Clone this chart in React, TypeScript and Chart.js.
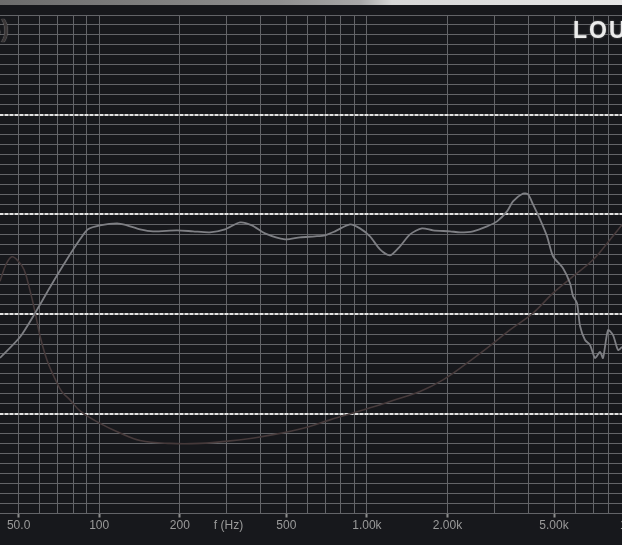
import React, { useEffect, useRef } from 'react';
import { Chart, registerables } from 'chart.js';

Chart.register(...registerables);

// Frequency response (SPL, dB) — frequencies in Hz
const splFreq = [42.6, 50.6, 57.6, 65.5, 75.8, 84.8, 90.8, 100.7, 116.6, 127, 142.1, 158.9, 195.3, 224.1, 259, 295, 335.7, 372, 416, 494.6, 562.6, 640, 697, 760, 865, 942, 1027, 1119, 1220, 1329, 1449, 1606, 1766, 2044, 2228, 2491, 2810, 3062, 3337, 3513, 3830, 3999, 4174, 4433, 4709, 4957, 5402, 5739, 5888, 6094, 6254, 6529, 6814, 7114, 7427, 7621, 7956, 8307, 8672, 8974];
const splDb = [65.6, 67.7, 70.1, 72.7, 75.5, 77.5, 78.5, 78.9, 79.1, 78.9, 78.5, 78.3, 78.4, 78.3, 78.2, 78.5, 79.2, 78.9, 78.1, 77.5, 77.7, 77.8, 77.9, 78.3, 79.0, 78.6, 77.8, 76.5, 75.9, 76.8, 78.0, 78.6, 78.4, 78.3, 78.2, 78.3, 78.8, 79.3, 80.3, 81.3, 82.1, 82.0, 81.0, 79.5, 77.8, 75.8, 74.6, 73.1, 71.8, 71.1, 68.8, 67.4, 66.9, 65.6, 66.2, 65.6, 68.4, 67.9, 66.4, 66.7];

// Impedance (ohm)
const impFreq = [42.6, 44.9, 47.2, 49.7, 52.4, 55.1, 57.6, 60.1, 63.8, 68.4, 72.6, 77.8, 84.8, 100.7, 119.6, 142.1, 183.9, 237.9, 308, 398.8, 562.6, 728, 1027, 1329, 1579, 1924, 2365, 2810, 3424, 4174, 4957, 5888, 6993, 8091, 8974];
const impOhm = [23.3, 25.0, 25.75, 25.35, 24.45, 22.4, 20.2, 17.8, 15.4, 13.5, 12.2, 11.4, 10.3, 9.04, 8.08, 7.33, 7.03, 7.03, 7.28, 7.68, 8.48, 9.39, 10.6, 11.57, 12.23, 13.4, 15.08, 16.59, 18.42, 20.1, 22.1, 23.78, 25.45, 27.46, 28.97];

// Axis ticks
const xGridValues = [50, 60, 70, 80, 90, 100, 200, 300, 304, 400, 500, 600, 700, 800, 900, 1000, 2000, 3000, 4000, 5000, 6000, 7000, 8000, 9000, 10000];
const xLabelValues = [50, 100, 200, 304, 500, 1000, 2000, 5000, 10000];
const xLabelTexts = ['50.0', '100', '200', 'f (Hz)', '500', '1.00k', '2.00k', '5.00k', '10.0k'];
const axisTitleValue = 304;
const yGridValues = Array.from({ length: 51 }, (_, i) => 50 + i);
const majorLevels = [60, 70, 80, 90];

const X_MIN = 42.6;
const X_MAX = 17550;
const GRID = '#636468';
const FONT = '"Liberation Sans", Arial, sans-serif';

const near = (a: number, b: number) => Math.abs(a - b) < 0.01;
const labelIndex = (v: number) => xLabelValues.findIndex((l) => near(l, v));

const dashPlugin = {
  id: 'majorDash',
  beforeDatasetsDraw(chart: any) {
    const { ctx, chartArea, scales } = chart;
    const y = scales.y;
    ctx.save();
    for (const v of majorLevels) {
      const py = Math.round(y.getPixelForValue(v));
      ctx.beginPath();
      ctx.setLineDash([]);
      ctx.strokeStyle = '#8c8c8c';
      ctx.lineWidth = 2;
      ctx.moveTo(chartArea.left, py);
      ctx.lineTo(chartArea.right, py);
      ctx.stroke();
      ctx.beginPath();
      ctx.setLineDash([3, 2]);
      ctx.strokeStyle = '#e2e2e2';
      ctx.moveTo(chartArea.left, py);
      ctx.lineTo(chartArea.right, py);
      ctx.stroke();
    }
    ctx.restore();
  },
};

export default function App() {
  const ref = useRef<HTMLCanvasElement>(null);

  useEffect(() => {
    document.body.style.margin = '0';
    const chart = new Chart(ref.current as HTMLCanvasElement, {
      type: 'line',
      data: {
        datasets: [
          {
            label: 'SPL',
            data: splFreq.map((f, i) => ({ x: f, y: splDb[i] })),
            borderColor: '#7e7f84',
            borderWidth: 1.8,
            pointRadius: 0,
            tension: 0.25,
            yAxisID: 'y',
          },
          {
            label: 'Impedance',
            data: impFreq.map((f, i) => ({ x: f, y: impOhm[i] })),
            borderColor: '#463a3b',
            borderWidth: 1.6,
            pointRadius: 0,
            tension: 0.4,
            yAxisID: 'y2',
          },
        ],
      },
      options: {
        animation: false,
        responsive: false,
        maintainAspectRatio: false,
        layout: { padding: { top: 15, left: 0, right: 0, bottom: 0 } },
        plugins: {
          legend: { display: false },
          tooltip: { enabled: false },
          title: { display: false },
        },
        scales: {
          x: {
            type: 'logarithmic',
            position: 'bottom',
            min: X_MIN,
            max: X_MAX,
            afterBuildTicks: (s: any) => {
              s.ticks = xGridValues.map((v) => ({ value: v }));
            },
            afterFit: (s: any) => {
              s.height = 31.5;
            },
            ticks: {
              autoSkip: false,
              maxRotation: 0,
              minRotation: 0,
              padding: 1,
              color: '#9a9a9a',
              font: { family: FONT, size: 12 },
              callback: (v: any) => {
                const i = labelIndex(Number(v));
                return i >= 0 ? xLabelTexts[i] : '';
              },
            },
            grid: {
              color: (c: any) => (c.tick && near(c.tick.value, axisTitleValue) ? 'rgba(0,0,0,0)' : GRID),
              lineWidth: 1,
              drawTicks: true,
              tickLength: 4,
              tickWidth: 2,
              tickColor: (c: any) => {
                const v = c.tick ? c.tick.value : 0;
                return labelIndex(v) >= 0 && !near(v, axisTitleValue) ? '#8e8e8e' : 'rgba(0,0,0,0)';
              },
            },
            border: { display: false },
          },
          y: {
            type: 'linear',
            min: 50,
            max: 100,
            afterBuildTicks: (s: any) => {
              s.ticks = yGridValues.map((v) => ({ value: v }));
            },
            afterFit: (s: any) => {
              s.width = 0;
            },
            ticks: { display: false },
            grid: { color: GRID, lineWidth: 1, drawTicks: false },
            border: { display: false },
          },
          y2: { type: 'linear', display: false, min: 0, max: 50 },
        },
      } as any,
      plugins: [dashPlugin],
    });
    return () => chart.destroy();
  }, []);

  return (
    <div
      style={{
        position: 'relative',
        width: 622,
        height: 545,
        overflow: 'hidden',
        background: '#17181c',
        fontFamily: FONT,
      }}
    >
      <canvas
        ref={ref}
        width={700}
        height={545}
        style={{ position: 'absolute', left: 0, top: 0, width: 700, height: 545 }}
      />
      <div
        style={{
          position: 'absolute',
          left: 0,
          top: 0,
          width: 622,
          height: 5,
          background: 'linear-gradient(90deg, #6c6c6c 0%, #8f8f8f 45%, #a8a8a8 58%, #d6d6d6 63%, #e6e6e6 100%)',
        }}
      />
      <div
        style={{
          position: 'absolute',
          left: 573,
          top: 17,
          fontSize: 23,
          fontWeight: 'bold',
          color: '#ececec',
          letterSpacing: 2,
          whiteSpace: 'nowrap',
          lineHeight: 'normal',
          textShadow: '0 0 2px #777',
        }}
      >
        LOU
      </div>
      <div
        style={{
          position: 'absolute',
          right: 613,
          top: 16,
          fontSize: 23,
          fontWeight: 'bold',
          color: '#3b3738',
          whiteSpace: 'nowrap',
          lineHeight: 'normal',
          textShadow: '0 0 1px #aaa',
        }}
      >
        (dB)
      </div>
    </div>
  );
}
